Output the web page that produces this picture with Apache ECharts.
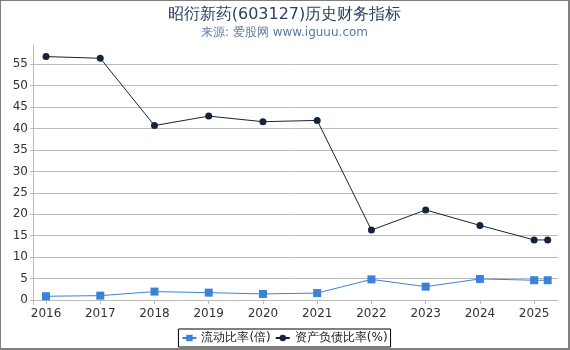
<!DOCTYPE html>
<html>
<head>
<meta charset="utf-8">
<script src="https://cdn.jsdelivr.net/npm/echarts@6/dist/echarts.min.js"></script>
<style>
  html, body { margin: 0; padding: 0; background: #fff; }
  #main {
    width: 567px; height: 347px;
    border-top: 1px solid #808080; border-left: 1px solid #808080;
    border-right: 2px solid #808080; border-bottom: 2px solid #808080;
  }
</style>
</head>
<body>
<div id="main"></div>
<script>
// 年份（最后一个点为 2025 年一季度）
const years = [2016, 2017, 2018, 2019, 2020, 2021, 2022, 2023, 2024, 2025, 2025.25]
// 流动比率(倍)
const currentRatio = [0.86, 1.0, 1.95, 1.7, 1.4, 1.6, 4.8, 3.1, 4.9, 4.6, 4.6]
// 资产负债比率(%)
const debtRatio = [56.8, 56.4, 40.7, 42.9, 41.6, 41.9, 16.3, 21.0, 17.4, 14.0, 14.0]
// 坐标轴刻度
const xTicks = [2016, 2017, 2018, 2019, 2020, 2021, 2022, 2023, 2024, 2025]
const yTicks = [0, 5, 10, 15, 20, 25, 30, 35, 40, 45, 50, 55]

const pair = (arr) => years.map((y, i) => [y, arr[i]])

const chart = echarts.init(document.getElementById('main'))
const option = {
  animation: false,
  title: {
    text: '昭衍新药(603127)历史财务指标',
    subtext: '来源: 爱股网 www.iguuu.com',
    left: 'center',
    top: 1,
    itemGap: 4,
    textStyle: { fontSize: 16, fontWeight: 'normal', color: '#2b4262', fontFamily: 'DejaVu Sans' },
    subtextStyle: { fontSize: 12, color: '#5a7aa6', fontFamily: 'DejaVu Sans' }
  },
  grid: { left: 32, right: 10, top: 44, bottom: 44 },
  legend: {
    bottom: 1,
    left: 'center',
    borderColor: '#000',
    borderWidth: 1,
    borderRadius: 0,
    padding: [3, 3],
    itemGap: 4,
    itemWidth: 14,
    itemHeight: 8,
    textStyle: { fontSize: 12, color: '#222', fontFamily: 'DejaVu Sans' },
    data: ['流动比率(倍)', '资产负债比率(%)']
  },
  xAxis: {
    type: 'value',
    min: 2015.76,
    max: 2025.44,
    axisLine: { show: true, lineStyle: { color: '#bbb' } },
    axisTick: { show: true, length: 4, lineStyle: { color: '#bbb' }, customValues: xTicks },
    axisLabel: { customValues: xTicks, color: '#333', fontSize: 12, fontFamily: 'DejaVu Sans', margin: 4, formatter: (v) => String(Math.round(v)) },
    splitLine: { show: false }
  },
  yAxis: {
    type: 'value',
    min: -0.95,
    max: 59.5,
    axisLine: { show: true, lineStyle: { color: '#bbb' } },
    axisTick: { show: true, length: 3, lineStyle: { color: '#bbb' }, customValues: yTicks },
    axisLabel: { customValues: yTicks, color: '#333', fontSize: 12, fontFamily: 'DejaVu Sans', margin: 5 },
    splitLine: { show: true, lineStyle: { color: '#bbb', width: 1 } }
  },
  series: [
    {
      name: '流动比率(倍)',
      type: 'line',
      data: pair(currentRatio),
      symbol: 'rect',
      symbolSize: 8,
      lineStyle: { width: 1, color: '#3a82d8' },
      itemStyle: { color: '#3a82d8' }
    },
    {
      name: '资产负债比率(%)',
      type: 'line',
      data: pair(debtRatio),
      symbol: 'circle',
      symbolSize: 7,
      lineStyle: { width: 1, color: '#14243a' },
      itemStyle: { color: '#14243a' }
    }
  ]
}
chart.setOption(option)
</script>
</body>
</html>
